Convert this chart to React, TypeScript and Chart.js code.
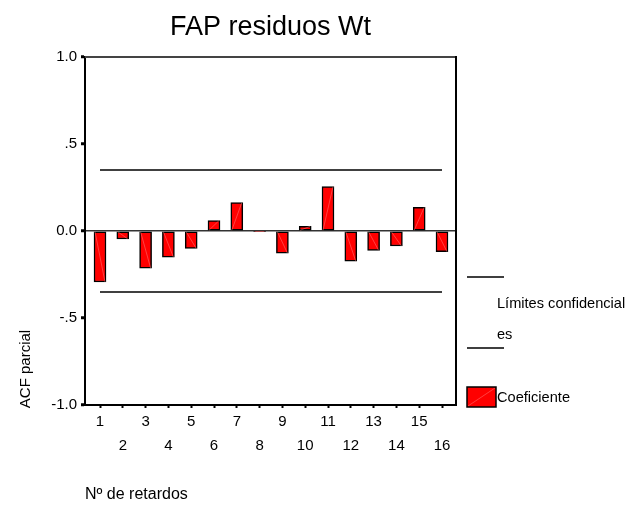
import React, { useEffect, useRef } from 'react';
import { Chart, registerables } from 'chart.js';

Chart.register(...registerables);

// ---- data ----
const lags = [1, 2, 3, 4, 5, 6, 7, 8, 9, 10, 11, 12, 13, 14, 15, 16];
const pacf = [-0.293, -0.046, -0.213, -0.15, -0.1, 0.06, 0.163, -0.004, -0.127, 0.027, 0.255, -0.174, -0.111, -0.086, 0.136, -0.119];
const confUpper = 0.35;
const confLower = -0.35;
const yTickValues = [-1, -0.5, 0, 0.5, 1];
const yTickLabels = ['-1.0', '-.5', '0.0', '.5', '1.0'];
const titleText = 'FAP residuos Wt';
const yTitleText = 'ACF parcial';
const xTitleText = 'Nº de retardos';
const legendLimitsLines = ['Límites confidencial', 'es'];
const legendBarText = 'Coeficiente';

const FONT = '"Liberation Sans", Arial, sans-serif';
const HATCH = 'rgba(255,140,140,0.75)';

const decorPlugin = {
  id: 'decor',
  afterDatasetsDraw(chart: any) {
    const ctx = chart.ctx;
    const meta = chart.getDatasetMeta(0);
    ctx.save();
    ctx.strokeStyle = HATCH;
    ctx.lineWidth = 0.6;
    meta.data.forEach((bar: any) => {
      const p = bar.getProps(['x', 'y', 'base', 'width'], true);
      if (Math.abs(p.y - p.base) < 3) return;
      ctx.beginPath();
      ctx.moveTo(p.x - p.width / 2 + 1, p.base);
      ctx.lineTo(p.x + p.width / 2 - 1, p.y);
      ctx.stroke();
    });
    ctx.restore();
  },
  afterDraw(chart: any) {
    const ctx = chart.ctx;
    const a = chart.chartArea;
    ctx.save();
    // top & right frame
    ctx.lineWidth = 2;
    ctx.strokeStyle = '#444';
    ctx.beginPath();
    ctx.moveTo(a.left, a.top);
    ctx.lineTo(a.right, a.top);
    ctx.stroke();
    ctx.strokeStyle = '#000';
    ctx.beginPath();
    ctx.moveTo(a.right, a.top - 1);
    ctx.lineTo(a.right, a.bottom + 1);
    ctx.stroke();

    ctx.fillStyle = '#000';
    // title
    ctx.font = `27px ${FONT}`;
    ctx.textAlign = 'center';
    ctx.textBaseline = 'alphabetic';
    ctx.fillText(titleText, (a.left + a.right) / 2, 35);

    // y title
    ctx.save();
    ctx.font = `15px ${FONT}`;
    ctx.translate(29.5, 369);
    ctx.rotate(-Math.PI / 2);
    ctx.textAlign = 'center';
    ctx.fillText(yTitleText, 0, 0);
    ctx.restore();

    // x title
    ctx.font = `16px ${FONT}`;
    ctx.textAlign = 'left';
    ctx.fillText(xTitleText, a.left, 499);

    // legend
    const lx = a.right + 11;
    ctx.lineWidth = 1.5;
    ctx.strokeStyle = '#000';
    ctx.beginPath();
    ctx.moveTo(lx, 277);
    ctx.lineTo(lx + 37, 277);
    ctx.moveTo(lx, 348);
    ctx.lineTo(lx + 37, 348);
    ctx.stroke();
    ctx.font = `14.6px ${FONT}`;
    ctx.fillText(legendLimitsLines[0], lx + 30, 308);
    ctx.fillText(legendLimitsLines[1], lx + 30, 339);

    ctx.fillStyle = '#ff0000';
    ctx.fillRect(lx, 387, 29, 20);
    ctx.strokeStyle = HATCH;
    ctx.lineWidth = 0.6;
    ctx.beginPath();
    ctx.moveTo(lx + 1, 406);
    ctx.lineTo(lx + 28, 388);
    ctx.stroke();
    ctx.strokeStyle = '#000';
    ctx.lineWidth = 1.5;
    ctx.strokeRect(lx, 387, 29, 20);
    ctx.fillStyle = '#000';
    ctx.fillText(legendBarText, lx + 30, 402);
    ctx.restore();
  },
};

export default function App() {
  const ref = useRef<HTMLCanvasElement | null>(null);

  useEffect(() => {
    if (!ref.current) return;
    const chart = new Chart(ref.current, {
      type: 'bar',
      data: {
        datasets: [
          {
            type: 'bar',
            data: lags.map((l, i) => ({ x: l, y: pacf[i] })),
            backgroundColor: '#ff0000',
            borderColor: '#000',
            borderWidth: 1.5,
            borderSkipped: false,
            barThickness: 12,
            order: 2,
          } as any,
          {
            type: 'line',
            data: [
              { x: lags[0], y: confUpper },
              { x: lags[lags.length - 1], y: confUpper },
            ],
            borderColor: '#000',
            borderWidth: 1.5,
            pointRadius: 0,
            fill: false,
            order: 1,
          } as any,
          {
            type: 'line',
            data: [
              { x: lags[0], y: confLower },
              { x: lags[lags.length - 1], y: confLower },
            ],
            borderColor: '#000',
            borderWidth: 1.5,
            pointRadius: 0,
            fill: false,
            order: 1,
          } as any,
        ],
      },
      options: {
        responsive: false,
        animation: false,
        layout: { padding: { left: 0, top: 57, right: 176, bottom: 0 } },
        plugins: { legend: { display: false }, title: { display: false }, tooltip: { enabled: false } },
        scales: {
          x: {
            type: 'linear',
            offset: false,
            min: 0.342,
            max: 16.614,
            afterBuildTicks: (scale: any) => {
              scale.ticks = lags.map((v) => ({ value: v }));
            },
            afterFit: (scale: any) => {
              scale.height = 104;
            },
            grid: {
              display: true,
              offset: false,
              drawOnChartArea: false,
              drawTicks: true,
              tickLength: 3,
              tickColor: '#000',
              tickWidth: 2,
            },
            border: { display: true, color: '#000', width: 2 },
            ticks: {
              padding: 2,
              maxRotation: 0,
              autoSkip: false,
              color: '#000',
              font: { family: FONT, size: 15, lineHeight: 1.6 },
              callback: (v: any) => {
                const n = Number(v);
                return n % 2 === 0 ? ['', String(n)] : String(n);
              },
            },
          },
          y: {
            type: 'linear',
            min: -1,
            max: 1,
            afterBuildTicks: (scale: any) => {
              scale.ticks = yTickValues.map((v) => ({ value: v }));
            },
            afterFit: (scale: any) => {
              scale.width = 85;
            },
            grid: {
              display: true,
              drawOnChartArea: true,
              drawTicks: true,
              tickLength: 4,
              tickColor: '#000',
              tickWidth: 3,
              lineWidth: 1.5,
              color: (c: any) => (c.tick && c.tick.value === 0 ? '#333' : 'rgba(0,0,0,0)'),
            },
            border: { display: true, color: '#000', width: 2 },
            ticks: {
              padding: 4,
              color: '#000',
              font: { family: FONT, size: 15 },
              callback: (v: any) => {
                const idx = yTickValues.indexOf(Number(v));
                return idx >= 0 ? yTickLabels[idx] : '';
              },
            },
          },
        },
      },
      plugins: [decorPlugin],
    } as any);
    return () => chart.destroy();
  }, []);

  return (
    <div style={{ position: 'absolute', left: 0, top: 0, width: 632, height: 509, background: '#fff' }}>
      <canvas ref={ref} width={632} height={509} />
    </div>
  );
}
